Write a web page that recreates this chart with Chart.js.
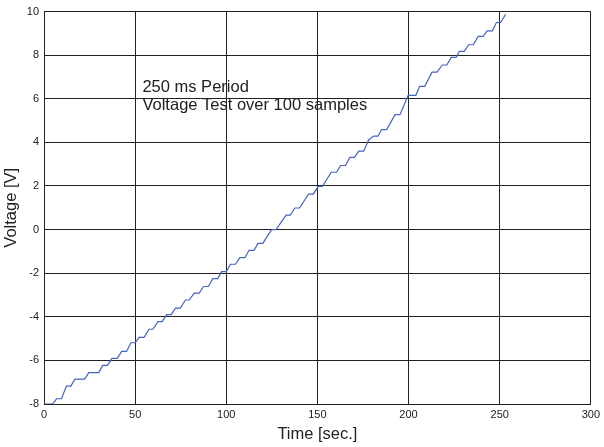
<!DOCTYPE html>
<html>
<head>
<meta charset="utf-8">
<script src="https://cdn.jsdelivr.net/npm/chart.js@4"></script>
<style>
    html, body { margin: 0; padding: 0; background: #fff; }
    #wrap { width: 604px; height: 447px; }
</style>
</head>
<body>
<div id="wrap"><canvas id="voltageChart" width="604" height="447"></canvas></div>
<script>
// values
const timeValues = [0, 4.7, 6.9, 9.6, 12.3, 14.7, 17, 22.3, 24.6, 30, 32.2, 34.8, 37.3, 40.2, 42.6, 45.3,
    47.7, 50, 52.2, 54.9, 57.6, 59.8, 62.5, 64.8, 67.3, 69.8, 72.1, 74.8, 77.6, 79.7, 82.4, 85.2,
    87.5, 90.2, 92.6, 95.3, 97.4, 100, 102.3, 105.1, 107.4, 110.2, 112.5, 115.2, 117.4, 120.1,
    122.5, 125, 127.3, 132.8, 135.1, 137.6, 140.2, 145.1, 147.7, 150.5, 152.7, 157.6, 160.5,
    162.7, 165.4, 167.8, 170.3, 172.7, 175.4, 178.1, 180.8, 183.2, 185.3, 188, 192.6, 195.3,
    199.8, 204, 206.1, 208.9, 212.9, 215.6, 218.5, 221, 223.4, 226.1, 227.9, 230.6, 233, 235.5,
    238.2, 240.9, 243.1, 246, 248.2, 250.5, 253.3];
const voltageValues = [-8, -8, -7.76, -7.76, -7.18, -7.18, -6.86, -6.86, -6.56, -6.56, -6.23, -6.23, -5.91, -5.91, -5.59, -5.59,
    -5.19, -5.19, -4.94, -4.94, -4.57, -4.57, -4.22, -4.22, -3.9, -3.9, -3.6, -3.6, -3.23, -3.23, -2.91, -2.91,
    -2.61, -2.61, -2.25, -2.25, -1.93, -1.93, -1.59, -1.59, -1.29, -1.29, -0.95, -0.95, -0.63, -0.63,
    -0.3, 0, 0, 0.66, 0.66, 0.99, 0.99, 1.63, 1.63, 1.98, 1.98, 2.63, 2.63,
    2.94, 2.94, 3.31, 3.31, 3.6, 3.6, 4.11, 4.29, 4.29, 4.59, 4.59, 5.27, 5.27,
    6.16, 6.16, 6.57, 6.57, 7.22, 7.22, 7.55, 7.55, 7.9, 7.9, 8.18, 8.18, 8.48, 8.48,
    8.86, 8.86, 9.12, 9.12, 9.5, 9.5, 9.88];
const xTicks = { min: 0, max: 300, step: 50 };
const yTicks = { min: -8, max: 10, step: 2 };
const noteLines = ['250 ms Period', 'Voltage Test over 100 samples'];

const points = [];
for (let i = 0; i < timeValues.length; i++) {
    points.push({ x: timeValues[i], y: voltageValues[i] });
}

// text box written inside the plot, anchored to data coords
const notePlugin = {
    id: 'notePlugin',
    afterDatasetsDraw(chart) {
        const ctx = chart.ctx;
        const x = chart.scales.x.getPixelForValue(54);
        const y = chart.scales.y.getPixelForValue(6.5);
        ctx.save();
        ctx.font = '16.5px "Liberation Sans", Arial, sans-serif';
        ctx.fillStyle = '#222';
        ctx.textBaseline = 'middle';
        for (let i = 0; i < noteLines.length; i++) {
            ctx.fillText(noteLines[i], x, y + i * 18);
        }
        ctx.restore();
    }
};

const ctx = document.getElementById('voltageChart');
new Chart(ctx, {
    type: 'line',
    data: {
        datasets: [
            {
                label: 'Voltage',
                data: points,
                borderColor: '#4563c0',
                borderWidth: 1.2,
                pointRadius: 0,
                tension: 0,
                fill: false
            }
        ]
    },
    options: {
        responsive: false,
        animation: false,
        layout: {
            padding: { top: 9, right: 8, left: 0, bottom: 0 }
        },
        plugins: {
            legend: { display: false },
            tooltip: { enabled: false }
        },
        scales: {
            x: {
                type: 'linear',
                min: xTicks.min,
                max: xTicks.max,
                ticks: {
                    stepSize: xTicks.step,
                    color: '#222',
                    padding: 4,
                    maxRotation: 0,
                    font: { family: '"Liberation Sans", Arial, sans-serif', size: 11 }
                },
                grid: { color: '#222', lineWidth: 1, drawTicks: false },
                border: { color: '#222', width: 1 },
                title: {
                    display: true,
                    text: 'Time [sec.]',
                    color: '#222',
                    padding: { top: 0, bottom: 3 },
                    font: { family: '"Liberation Sans", Arial, sans-serif', size: 16.5 }
                },
                afterFit: function(scale) { scale.height = 43; }
            },
            y: {
                min: yTicks.min,
                max: yTicks.max,
                ticks: {
                    stepSize: yTicks.step,
                    color: '#222',
                    padding: 5,
                    font: { family: '"Liberation Sans", Arial, sans-serif', size: 11 }
                },
                grid: { color: '#222', lineWidth: 1, drawTicks: false },
                border: { color: '#222', width: 1 },
                title: {
                    display: true,
                    text: 'Voltage [V]',
                    color: '#222',
                    padding: { top: 2, bottom: 0 },
                    font: { family: '"Liberation Sans", Arial, sans-serif', size: 16.5 }
                },
                afterFit: function(scale) { scale.width = 44; }
            }
        }
    },
    plugins: [notePlugin]
});
</script>
</body>
</html>
